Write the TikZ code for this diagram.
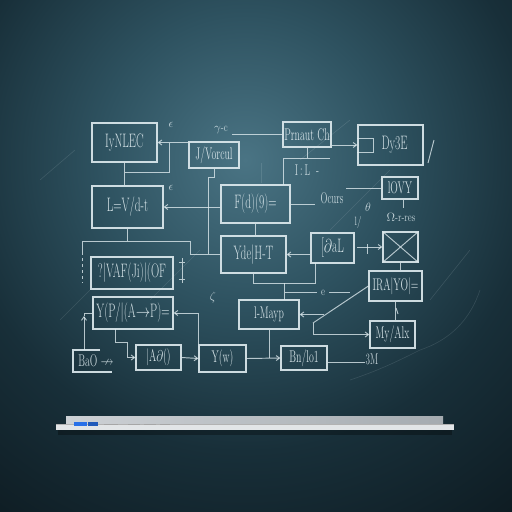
\documentclass[tikz,border=0pt]{standalone}
\usepackage{amssymb}
\usepackage{graphicx}
\usepackage{fontspec}
\setmainfont{Latin Modern Roman}
\newfontfamily\chalk[FakeStretch=0.76]{Latin Modern Roman}
\newcommand\ct[1]{\scalebox{1}[1.3]{#1}}
\usetikzlibrary{arrows.meta}
\definecolor{bgd}{RGB}{9,18,23}
\definecolor{bgm}{RGB}{24,47,57}
\definecolor{bgx}{RGB}{46,82,96}
\definecolor{bgc}{RGB}{74,116,132}
\definecolor{chalk}{RGB}{224,236,240}
\definecolor{shelfa}{RGB}{205,209,213}
\definecolor{shelfb}{RGB}{165,171,176}
\definecolor{shelfc}{RGB}{226,229,231}
\definecolor{bluemark}{RGB}{40,112,232}
\pgfdeclareradialshading{board}{\pgfpoint{0bp}{0bp}}{color(0bp)=(bgc); color(7bp)=(bgx); color(14bp)=(bgm); color(25bp)=(bgd); color(50bp)=(bgd)}
\begin{document}
\begin{tikzpicture}[x=1pt,y=-1pt,
  box/.style={draw=chalk, draw opacity=0.9, line width=1.2pt, inner sep=1pt, text=chalk, text opacity=0.92, font=\chalk\fontsize{15}{16}\selectfont},
  sbox/.style={box, font=\chalk\fontsize{13}{14}\selectfont},
  wire/.style={draw=chalk, draw opacity=0.78, line width=0.95pt},
  arr/.style={-{Straight Barb[length=3.5pt,width=5pt]}},
  rarr/.style={{Straight Barb[length=3.5pt,width=5pt]}-},
  chalkmark/.style={text=chalk, text opacity=0.85, font=\chalk\fontsize{12}{13}\selectfont, inner sep=0pt},
  faint/.style={draw=chalk, draw opacity=0.13, line width=0.6pt}]
\useasboundingbox (0,0) rectangle (512,512);
% board
\begin{scope}
\clip (0,0) rectangle (512,512);
\fill[bgd] (0,0) rectangle (512,512);
\shade[shading=board] (245,160) circle[radius=520pt];
\end{scope}
% faint chalk smudges
\draw[faint] (40,180) -- (75,150);
\draw[faint] (150,300) -- (200,250);
\draw[faint] (300,160) -- (350,120);
\draw[faint] (330,230) -- (390,170);
\draw[faint] (430,300) -- (470,250);
\draw[faint] (420,350) .. controls (450,340) and (470,320) .. (480,290);
\draw[faint] (60,320) -- (90,290);
\draw[faint] (350,380) .. controls (380,370) and (400,360) .. (420,350);
\draw[faint] (261,163) -- (261,183);
% nodes
\node[box, minimum width=65pt, minimum height=39pt] (A) at (124.5,142.5) {\ct{IyNLEC}};
\node[sbox, minimum width=50pt, minimum height=26pt] (B) at (214,155) {\ct{J/Vorcul}};
\node[box, minimum width=71pt, minimum height=42pt] (C) at (127.5,207) {\ct{L=V/d-t}};
\node[box, minimum width=69pt, minimum height=38pt] (D) at (255.5,204) {\ct{F(d)(9)=}};
\node[box, minimum width=82pt, minimum height=32pt] (E) at (132,273) {\ct{?|VAF(Ji)|(OF}};
\node[box, minimum width=80pt, minimum height=32pt] (F) at (133,313) {\ct{Y(P/|(A$\to$P)=}};
\node[sbox, minimum width=45pt, minimum height=25pt] (H1) at (158.5,357.5) {\ct{|A$\partial$()}};
\node[sbox, minimum width=47pt, minimum height=27pt] (H) at (222.5,358.5) {\ct{Y(w)}};
\node[sbox, minimum width=46pt, minimum height=24pt] (I) at (304,358) {\ct{Bn/lo1}};
\node[sbox, minimum width=60pt, minimum height=29pt] (J) at (269,314.5) {\ct{l-Mayp}};
\node[sbox, minimum width=45pt, minimum height=27pt] (K) at (392.5,334.5) {\ct{My/Alx}};
\node[sbox, minimum width=53pt, minimum height=30pt] (L) at (395.5,286) {\ct{IRA|YO|=}};
\node[box, minimum width=35pt, minimum height=30pt] (M) at (400.5,247) {};
\node[box, minimum width=43pt, minimum height=30pt] (N) at (332.5,248) {\ct{[$\partial$aL}};
\node[box, minimum width=65pt, minimum height=37pt] (O) at (253.5,254.5) {\ct{Yde|H-T}};
\node[sbox, minimum width=48pt, minimum height=25pt] (P) at (307,134.5) {\ct{Prnaut Ch}};
\node[sbox, minimum width=36pt, minimum height=22pt] (Q) at (400,188) {\ct{lOVY}};
\node[box, minimum width=65pt, minimum height=40pt] (R) at (390.5,145) {\hspace{8pt}\ct{Dy3E}};
\node[chalkmark, font=\chalk\fontsize{13}{14}\selectfont] (G) at (96,361) {\ct{BaO $\nrightarrow$}};
% open box G
\draw[wire, draw opacity=0.9, line width=1.2pt] (100,350) -- (73,350) -- (73,372) -- (112,372);
% M cross
\draw[wire] (M.north west) -- (M.south east) (M.north east) -- (M.south west);
% R inner box
\draw[wire] (R.west |- 0,138) -- (373,138) -- (373,152) -- (R.west |- 0,152);
\draw[wire] (434,140) -- (428,163);
% marks
\node[chalkmark] (m1) at (171,125) {$\epsilon$};
\node[chalkmark] (m2) at (171,188) {$\epsilon$};
\node[chalkmark] (m3) at (221,130) {$\gamma$-c};
\node[chalkmark] (m4) at (307,170) {\ct{I\,:\,L \ -}};
\node[chalkmark] (m5) at (332,198) {\ct{Ocurs}};
\node[chalkmark] (m6) at (368,207) {$\theta$};
\node[chalkmark] (m7) at (401,217) {$\Omega$-r-res};
\node[chalkmark] (m8) at (358,222) {l/};
\node[chalkmark] (m9) at (213,297) {$\zeta$};
\node[chalkmark] (m10) at (323,293) {e};
\node[chalkmark] (m11) at (372,359) {\ct{3M}};
% wires
\draw[wire, rarr] (A.east) -- (A.east -| B.west);
\coordinate (j1) at (169,142.5);
\draw[wire] (j1) -- (169,172) -- (A.south |- 0,172);
\draw[wire] (A.south) -- (A.south |- C.north);
\draw[wire, rarr] (C.east) -- (C.east -| D.west);
\draw[wire] (B.south) |- (208,177) |- (O.west);
\draw[wire] (208,254.5) -- (190,254.5) -- (190,241) -- (82,241) -- (82,252);
\draw[wire, dashed] (82,252) -- (82,283);
\draw[wire] (C.south) -- (C.south |- 0,241);
\draw[wire] (182,258) -- (182,283) (179,262) -- (185,262) (179,279) -- (185,279);
\draw[wire, rarr] (F.east) -- (F.east -| H.west) -- (H.north west);
\coordinate (g1) at (84,350);
\draw[wire, arr] (g1) -- (84,316);
\draw[wire] (84,316) |- (F.west);
\draw[wire, arr] (115,329) |- (127,342) |- (H1.west);
\draw[wire, arr] (H1.east) -- (H.west);
\draw[wire, rarr, arr] (H.east) -- (I.west);
\draw[wire] (J.south) -- (J.south |- I.west);
\draw[wire, rarr] (J.east) -- ++(24,0);
\draw[wire] (I.east |- 0,362) -- (365,362);
\coordinate (dk) at (313,323);
\draw[wire] (dk) -- (L.west);
\draw[wire, arr] (dk) |- (K.west);
\draw[wire] (L.south) -- (L.south |- K.north);
\draw[wire] (396,308) -- (398,314);
\draw[wire] (M.south) -- (M.south |- L.north);
\draw[wire, rarr] (M.west) -- ++(-25,0);
\draw[wire] (367,244) -- (367,254);
\draw[wire, rarr] (O.east) -- (O.east -| N.west);
\draw[wire] (O.south) |- (315,283) -- (315,263);
\draw[wire] (284,283) -- (284,300);
\draw[wire] (285,292) -- (317,292) (329,292) -- (350,292);
\draw[wire] (D.south) -- (D.south |- O.north);
\draw[wire] (P.west) -- ++(-50,0);
\draw[wire] (P.south) -- (P.south |- 0,158);
\draw[wire] (330,158) -- (283,158) -- (283,185);
\draw[wire, arr] (P.east |- R.west) -- (R.west);
\draw[wire] (D.east) -- ++(24,0);
\draw[wire] (Q.west) -- ++(-35,0);
\draw[wire] (Q.south -| 403,0) -- (403,208);
% shelf
\fill[black, opacity=0.3] (58,430) rectangle (452,435);
\shade[left color=shelfa, right color=shelfb] (66,416) rectangle (443,424);
\fill[shelfc] (56,424) rectangle (454,430);
\draw[gray!60, line width=0.4pt] (56,424) -- (454,424);
\fill[bluemark] (74,422) rectangle (87,426);
\fill[bluemark!80!black] (88,422) rectangle (98,426);
\draw[gray!70, line width=0.5pt] (104,424) -- (118,424) (128,424) -- (140,424) (144,424) -- (156,424) (160,424) -- (170,424);
\end{tikzpicture}
\end{document}
